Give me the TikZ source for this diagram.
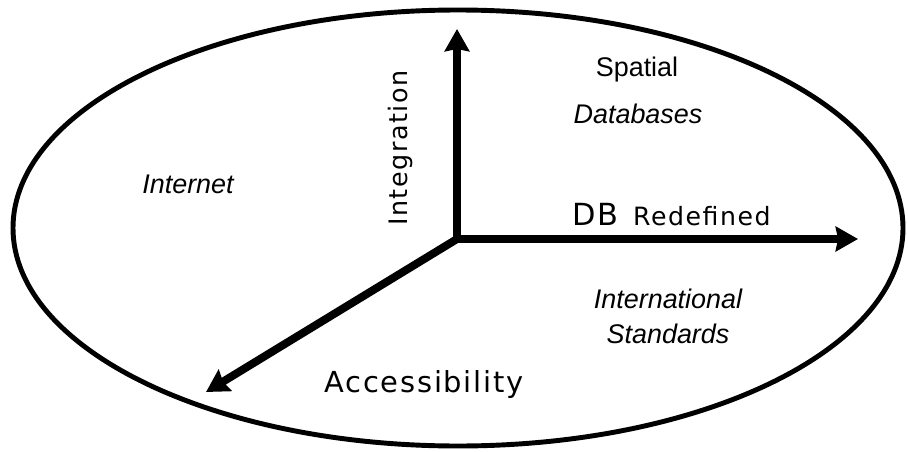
\documentclass[tikz,border=0pt]{standalone}
\usepackage{fontspec}
\setmainfont{Liberation Sans}
\newfontfamily\axisfont[LetterSpace=6]{DejaVu Sans}
\usetikzlibrary{arrows.meta}

\tikzset{
  axisarrow/.style={line width=6.8pt, line cap=rect,
    -{Stealth[length=19pt, width=21pt, inset=2pt]}},
  axislabel/.style={font=\axisfont\fontsize{24.7}{27}\selectfont, inner sep=0pt},
  arealabel/.style={font=\fontsize{23}{26}\selectfont\itshape, inner sep=0pt},
}

\begin{document}
\begin{tikzpicture}[x=0.03cm, y=-0.03cm]
% page frame in pixel units
\useasboundingbox (0,0) rectangle (908,451);

% outer ellipse
\draw[line width=4.2pt] (458,228) ellipse [x radius=445, y radius=218];

% axes
\coordinate (o)     at (457,239);
\coordinate (integ) at (457,29);
\coordinate (redef) at (858,239);
\coordinate (acc)   at (206,392);
\draw[axisarrow] (o) -- (integ);
\draw[axisarrow] (o) -- (redef);
\draw[axisarrow] (o) -- (acc);

% axis names
\node[axislabel, rotate=90, anchor=base,
      font=\axisfont\fontsize{21.7}{24}\selectfont] (integlbl) at (407,148) {Integration};
\node[axislabel, anchor=base] (acclbl) at (424,392) {Accessibility};
\node[axislabel, anchor=base west, font=\axisfont\fontsize{26}{28}\selectfont]
      (dblbl) at (572,225) {DB};
\node[axislabel, anchor=base west, font=\axisfont\fontsize{21.5}{24}\selectfont]
      (redeflbl) at (633,225) {Redefined};

% areas between the axes
\node[arealabel, anchor=base] (inet)  at (188,193) {Internet};
\node[arealabel, anchor=base, font=\fontsize{23}{26}\selectfont]
      (spat) at (637,77) {Spatial};
\node[arealabel, anchor=base] (datab) at (638,123) {Databases};
\node[arealabel, anchor=base] (intl)  at (668,308) {International};
\node[arealabel, anchor=base] (stds)  at (668,343) {Standards};
\end{tikzpicture}
\end{document}
